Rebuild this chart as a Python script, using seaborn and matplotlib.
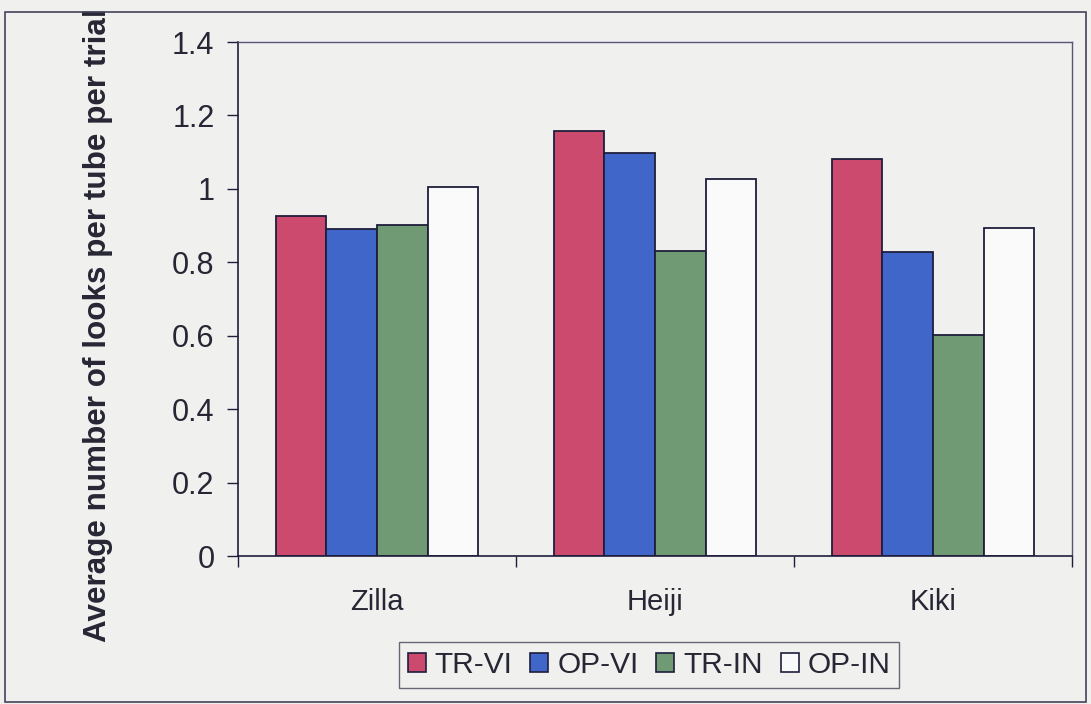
import matplotlib
matplotlib.use("Agg")
import matplotlib.pyplot as plt
from matplotlib.patches import Rectangle
from matplotlib.ticker import FixedLocator, FuncFormatter
import seaborn as sns
import pandas as pd

# Average looks per tube per trial, by subject and condition
subjects = ["Zilla", "Heiji", "Kiki"]
conditions = ["TR-VI", "OP-VI", "TR-IN", "OP-IN"]
tr_vi = [0.926, 1.158, 1.082]
op_vi = [0.891, 1.098, 0.828]
tr_in = [0.902, 0.831, 0.602]
op_in = [1.005, 1.027, 0.894]
y_ticks = [0, 0.2, 0.4, 0.6, 0.8, 1.0, 1.2, 1.4]

series = {"TR-VI": tr_vi, "OP-VI": op_vi, "TR-IN": tr_in, "OP-IN": op_in}
df = pd.DataFrame(
    [(s, c, series[c][i]) for i, s in enumerate(subjects) for c in conditions],
    columns=["subject", "condition", "value"],
)

palette = {"TR-VI": "#cc4a6e", "OP-VI": "#3f66c8", "TR-IN": "#6f9a73", "OP-IN": "#fafafa"}
bg = "#f0f0ee"
ink = "#262634"
edge = "#1e1e3c"

sns.set_theme(style="white")
plt.rcParams["font.family"] = ["Liberation Sans", "DejaVu Sans"]

fig = plt.figure(figsize=(10.91, 7.04), dpi=100, facecolor=bg)
ax = fig.add_axes([238 / 1091, 1 - 556 / 704, (1072 - 238) / 1091, (556 - 42) / 704])
ax.set_facecolor(bg)

sns.barplot(
    data=df, x="subject", y="value", hue="condition",
    order=subjects, hue_order=conditions, palette=palette,
    width=0.73, gap=0, edgecolor=edge, linewidth=1.3,
    saturation=1, errorbar=None, legend=False, ax=ax,
)

ax.set_xlim(-0.5, 2.5)
ax.set_ylim(0, 1.4)
ax.yaxis.set_major_locator(FixedLocator(y_ticks))
ax.yaxis.set_major_formatter(FuncFormatter(lambda v, p: f"{v:g}"))
ax.tick_params(axis="y", which="major", left=True, length=8, width=1.0,
               color=edge, pad=9, labelsize=22, labelcolor=ink)

# category boundaries carry the x ticks; names sit between them
ax.xaxis.set_minor_locator(FixedLocator([-0.5, 0.5, 1.5, 2.5]))
ax.tick_params(axis="x", which="minor", bottom=True, length=8, width=1.0, color=edge)
ax.tick_params(axis="x", which="major", bottom=False, length=0, pad=23,
               labelsize=21, labelcolor=ink)

for side in ["left", "bottom"]:
    ax.spines[side].set_color(edge)
    ax.spines[side].set_linewidth(1.2)
for side in ["top", "right"]:
    ax.spines[side].set_color("#55557a")
    ax.spines[side].set_linewidth(1.0)

ax.set_xlabel("")
ax.set_ylabel("Average number of looks per tube per trial", fontsize=22.6,
              fontweight="bold", color=ink)
ax.yaxis.label.set_va("center")
ax.yaxis.set_label_coords(-0.168, 0.449)

handles = [Rectangle((0, 0), 1, 1, facecolor=palette[c], edgecolor=edge, linewidth=1.2)
           for c in conditions]
leg = fig.legend(handles, conditions, loc="center", ncol=4,
                 bbox_to_anchor=(649 / 1091, 1 - 665 / 704),
                 fontsize=21.5, frameon=True, fancybox=False,
                 handlelength=0.6, handleheight=0.6, handletextpad=0.3,
                 columnspacing=0.6, borderpad=0.3, labelcolor=ink)
leg.get_frame().set_edgecolor("#44445a")
leg.get_frame().set_linewidth(1.0)
leg.get_frame().set_facecolor(bg)

# outer chart frame
fig.patches.append(Rectangle((5 / 1091, 2 / 704), 1081 / 1091, 690 / 704,
                             transform=fig.transFigure, fill=False,
                             edgecolor="#44445a", linewidth=1.2))

fig.savefig("out.png", dpi=100, facecolor=bg)
